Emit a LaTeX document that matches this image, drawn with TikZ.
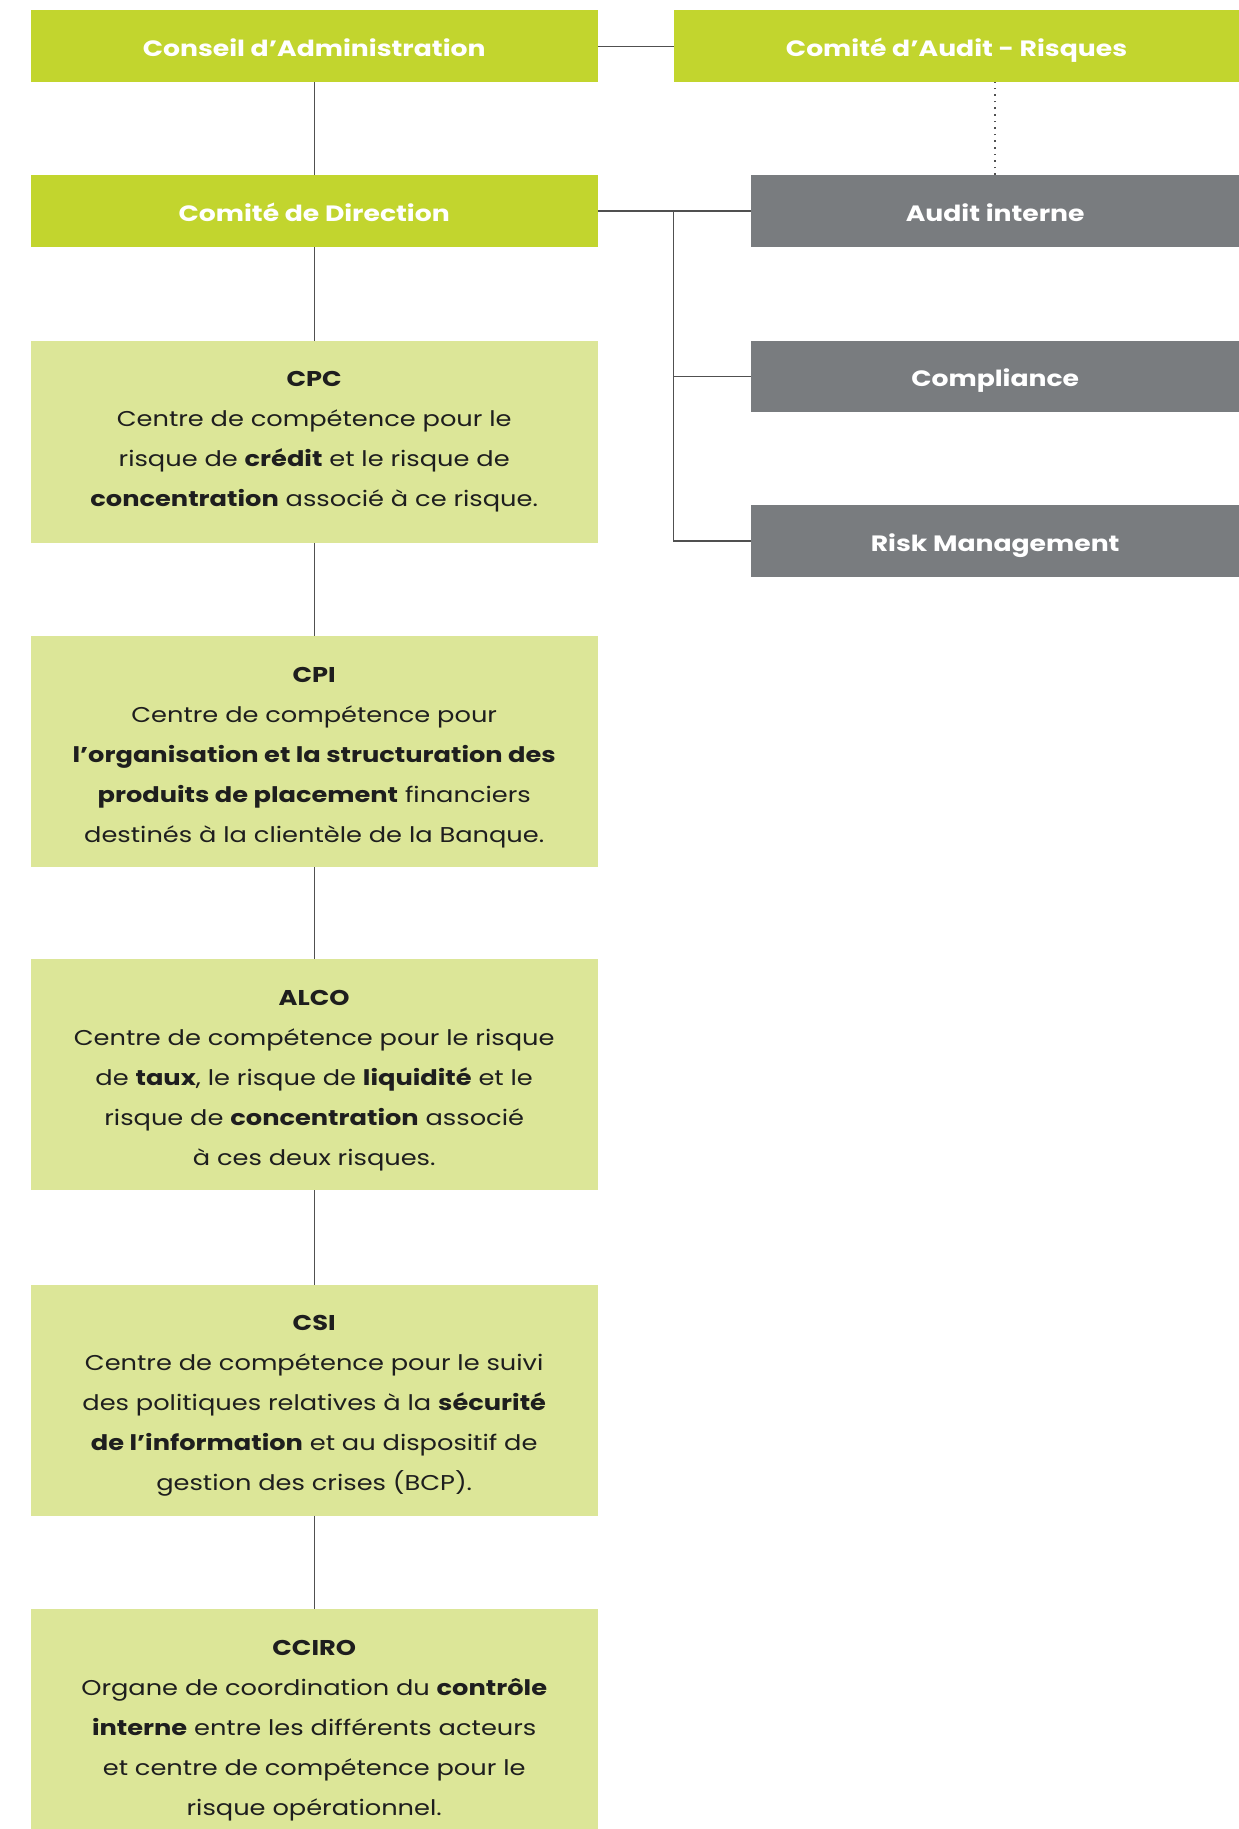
\documentclass[tikz,border=0pt]{standalone}
\usepackage{fontspec}
\setmainfont{Poppins}[BoldFont={Poppins Bold}, FakeStretch=1.2]
\newfontfamily\titlefont{Poppins Bold}[FakeStretch=1.2]
\definecolor{limec}{RGB}{194,213,46}
\definecolor{lightc}{RGB}{220,230,152}
\definecolor{greyc}{RGB}{121,124,127}
\definecolor{linec}{RGB}{80,80,80}
\definecolor{txtc}{RGB}{30,30,30}
\begin{document}
\begin{tikzpicture}[x=1pt,y=-1pt,
  titlebox/.style={anchor=north west, inner sep=0pt, text=white,
    text height=20pt, text depth=0pt,
    font=\titlefont\fontsize{22.2}{25}\selectfont},
  limebox/.style={titlebox, fill=limec},
  greybox/.style={titlebox, fill=greyc},
  infobox/.style={anchor=north west, inner sep=0pt, fill=lightc,
    minimum width=567.2pt},
  infotext/.style={anchor=north, inner sep=0pt, text=txtc, align=center,
    font=\fontsize{21.4}{40}\selectfont},
  conn/.style={draw=linec, line width=1.3pt},
  dotconn/.style={draw=linec, line width=1.6pt, dash pattern=on 1.6pt off 5pt}]
\useasboundingbox (0,0) rectangle (1239,1829);
\clip (0,0) rectangle (1239,1829);
\fill[white] (0,0) rectangle (1239,1829);

\node[limebox, minimum width=567.2pt, minimum height=72pt] (ca) at (30.4,10) {Conseil d’Administration};
\node[limebox, minimum width=565.3pt, minimum height=72pt] (car) at (673.7,10) {Comité d’Audit - Risques};
\node[limebox, minimum width=567.2pt, minimum height=71.7pt] (dir) at (30.4,175) {Comité de Direction};
\node[greybox, minimum width=488pt, minimum height=71.7pt] (ai) at (751,175) {Audit interne};
\node[greybox, minimum width=488pt, minimum height=71.5pt] (comp) at (751,340.5) {Compliance};
\node[greybox, minimum width=488pt, minimum height=71.7pt] (rm) at (751,505) {Risk Management};

\node[infobox, minimum height=202pt] (cpc) at (30.4,340.5) {};
\node[infobox, minimum height=231pt] (cpi) at (30.4,636) {};
\node[infobox, minimum height=231pt] (alco) at (30.4,959) {};
\node[infobox, minimum height=231pt] (csi) at (30.4,1284.5) {};
\node[infobox, minimum height=231pt] (cciro) at (30.4,1609) {};

\node[infotext] (cpct) at ([yshift=-16pt]cpc.north) {\rule{0pt}{30pt}\textbf{CPC}\\
Centre de compétence pour le\\
risque de \textbf{crédit} et le risque de\\
\textbf{concentration} associé à ce risque.};
\node[infotext] (cpit) at ([yshift=-16pt]cpi.north) {\rule{0pt}{30pt}\textbf{CPI}\\
Centre de compétence pour\\
\textbf{l’organisation et la structuration des}\\
\textbf{produits de placement} financiers\\
destinés à la clientèle de la Banque.};
\node[infotext] (alcot) at ([yshift=-16pt]alco.north) {\rule{0pt}{30pt}\textbf{ALCO}\\
Centre de compétence pour le risque\\
de \textbf{taux}, le risque de \textbf{liquidité} et le\\
risque de \textbf{concentration} associé\\
à ces deux risques.};
\node[infotext] (csit) at ([yshift=-16pt]csi.north) {\rule{0pt}{30pt}\textbf{CSI}\\
Centre de compétence pour le suivi\\
des politiques relatives à la \textbf{sécurité}\\
\textbf{de l’information} et au dispositif de\\
gestion des crises (BCP).};
\node[infotext] (ccirot) at ([yshift=-16pt]cciro.north) {\rule{0pt}{30pt}\textbf{CCIRO}\\
Organe de coordination du \textbf{contrôle}\\
\textbf{interne} entre les différents acteurs\\
et centre de compétence pour le\\
risque opérationnel.};

% connectors
\draw[conn] (ca.east) -- (car.west);
\draw[conn] (ca.south) -- (dir.north);
\draw[conn] (dir.south) -- (cpc.north);
\draw[conn] (cpc.south) -- (cpi.north);
\draw[conn] (cpi.south) -- (alco.north);
\draw[conn] (alco.south) -- (csi.north);
\draw[conn] (csi.south) -- (cciro.north);
\draw[conn] (dir.east) -- (ai.west);
\coordinate (bus) at (car.west |- dir.east);
\draw[conn] (bus) |- (rm.west);
\draw[conn] (bus |- comp.west) -- (comp.west);
\draw[dotconn] (ai.north) -- (ai.north |- car.south);
\end{tikzpicture}
\end{document}
